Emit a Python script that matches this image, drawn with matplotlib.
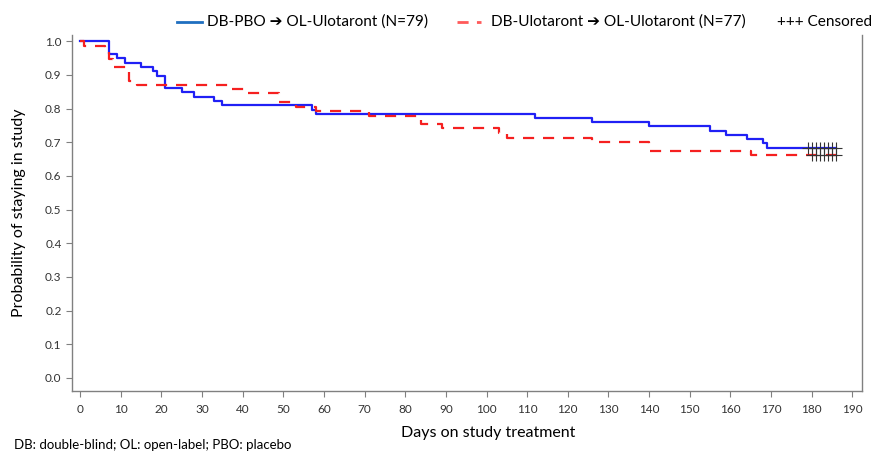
import matplotlib.pyplot as plt
from matplotlib.lines import Line2D

plt.rcParams['font.family'] = ['Lato', 'DejaVu Sans']

# Kaplan-Meier step points (day, probability)
days_pbo = [0, 7, 9, 11, 15, 18, 19, 21, 25, 28, 33, 35, 57, 58, 112, 126,
            140, 155, 159, 164, 168, 169, 186]
surv_pbo = [1.0, 0.962, 0.949, 0.936, 0.924, 0.911, 0.898, 0.861, 0.848,
            0.835, 0.823, 0.810, 0.797, 0.785, 0.772, 0.759, 0.747, 0.734,
            0.722, 0.709, 0.697, 0.684, 0.684]
cens_pbo = [179, 180, 181, 182, 183, 184, 185, 186]

days_ulo = [0, 1, 6, 7, 8, 12, 14, 37, 41, 49, 53, 58, 71, 84, 89, 103, 105,
            126, 140, 165, 186]
surv_ulo = [1.0, 0.987, 0.974, 0.948, 0.922, 0.883, 0.869, 0.857, 0.845,
            0.820, 0.805, 0.792, 0.779, 0.754, 0.741, 0.728, 0.714, 0.701,
            0.675, 0.662, 0.662]
cens_ulo = [180, 181, 182, 183, 184, 185, 186]

x_ticks = list(range(0, 191, 10))
y_ticks = [i / 10 for i in range(11)]

blue = '#2020f5'
red = '#f52020'
grey = '#808080'

fig = plt.figure(figsize=(8.77, 4.51), dpi=100, facecolor='w')
ax = fig.add_axes([0.0821, 0.133, 0.9008, 0.789])

ax.step(days_pbo, surv_pbo, where='post', color=blue, lw=1.6)
ax.step(days_ulo, surv_ulo, where='post', color=red, lw=1.6,
        linestyle=(0, (5, 4)))


def surv_at(t, days, surv):
  val = surv[0]
  for d, s in zip(days, surv):
    if d <= t:
      val = s
  return val


ax.plot(cens_pbo, [surv_at(t, days_pbo, surv_pbo) for t in cens_pbo],
        linestyle='none', marker='+', ms=8, mew=0.8, color='#333333')
ax.plot(cens_ulo, [surv_at(t, days_ulo, surv_ulo) for t in cens_ulo],
        linestyle='none', marker='+', ms=8, mew=0.8, color='#333333')

ax.set_xlim(-2, 192.4)
ax.set_ylim(-0.039, 1.018)
ax.set_xticks(x_ticks)
ax.set_xticklabels([str(t) for t in x_ticks])
ax.set_yticks(y_ticks)
ax.set_yticklabels(['%.1f' % t for t in y_ticks])

ax.spines['top'].set_visible(False)
for s in ['left', 'bottom', 'right']:
  ax.spines[s].set_color(grey)
  ax.spines[s].set_linewidth(1)
ax.tick_params(axis='both', direction='out', length=4, width=0.8,
               color=grey, labelsize=8.5, labelcolor='#333333')
ax.tick_params(axis='x', pad=5)

ax.set_ylabel('Probability of staying in study', fontsize=11.5, labelpad=14)
ax.set_xlabel('Days on study treatment', fontsize=11.5, va='center')
ax.xaxis.set_label_coords(0.527, -0.118)

# legend drawn across the top of the figure
ly = 1 - 22 / 451
fs_leg = 11.1
fig.add_artist(Line2D([177 / 877, 202 / 877], [ly, ly], color='#1f6fc0',
                      lw=2, transform=fig.transFigure))
fig.text(207 / 877, ly, 'DB-PBO ➔ OL-Ulotaront (N=79)', fontsize=fs_leg,
         va='center', ha='left')
fig.add_artist(Line2D([457 / 877, 481 / 877], [ly, ly], color='#ff5a5a',
                      lw=2, linestyle=(0, (4, 3)), transform=fig.transFigure))
fig.text(491 / 877, ly, 'DB-Ulotaront ➔ OL-Ulotaront (N=77)', fontsize=fs_leg,
         va='center', ha='left')
fig.text(777 / 877, ly, '+++ Censored', fontsize=fs_leg, va='center', ha='left')

fig.text(14 / 877, 1 - 445 / 451, 'DB: double-blind; OL: open-label; PBO: placebo',
         fontsize=9.5, va='center', ha='left')

fig.savefig('out.png', dpi=100)
